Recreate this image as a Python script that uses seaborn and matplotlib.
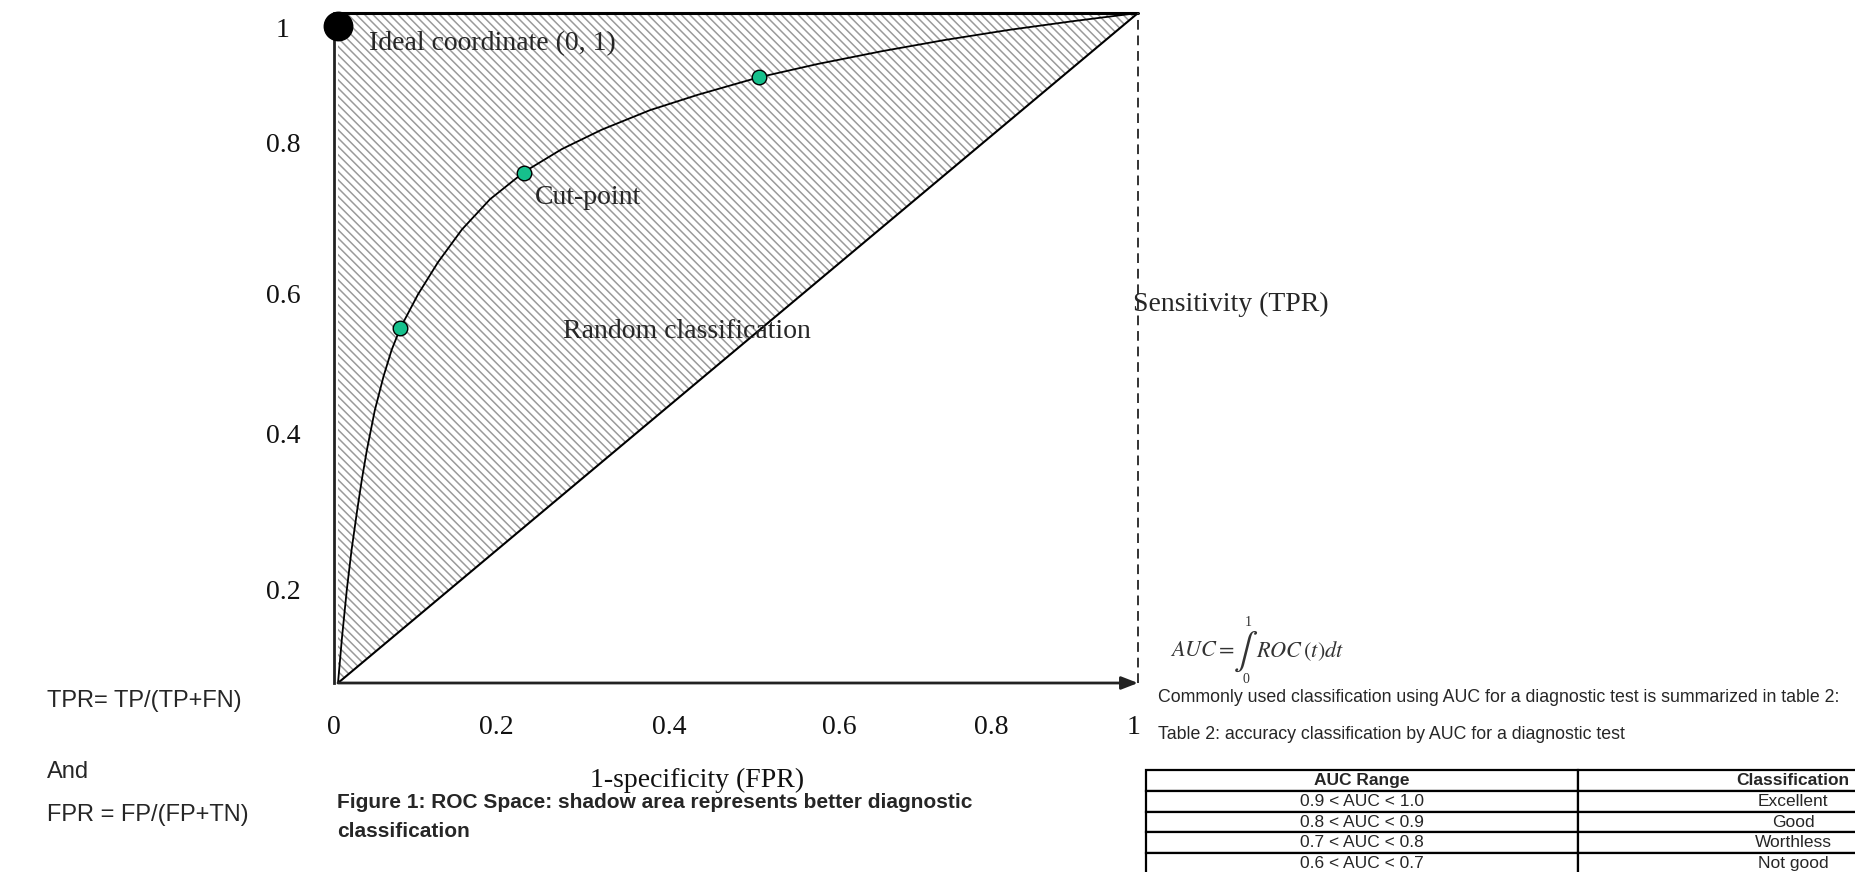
import matplotlib
matplotlib.use("Agg")
import matplotlib.pyplot as plt
import seaborn as sns

# ROC curve (FPR, TPR)
fpr_curve = [0, 0.005, 0.011, 0.017, 0.024, 0.030, 0.036, 0.046, 0.057, 0.067,
             0.078, 0.100, 0.125, 0.155, 0.190, 0.233, 0.280, 0.330, 0.390,
             0.450, 0.526, 0.600, 0.680, 0.760, 0.840, 0.920, 1.0]
tpr_curve = [0, 0.068, 0.139, 0.199, 0.258, 0.305, 0.347, 0.407, 0.458, 0.497,
             0.530, 0.580, 0.628, 0.677, 0.722, 0.763, 0.797, 0.826, 0.855,
             0.878, 0.904, 0.924, 0.943, 0.960, 0.975, 0.988, 1.0]
random_fpr = [0, 1]
random_tpr = [0, 1]
cut_fpr = [0.078, 0.233, 0.526]
cut_tpr = [0.530, 0.761, 0.904]
ideal_fpr = [0.0]
ideal_tpr = [0.98]

# the tick labels sit a little off the regular grid in the source figure
xtick_pos = [-0.005, 0.198, 0.414, 0.627, 0.816, 0.994]
xtick_lab = ["0", "0.2", "0.4", "0.6", "0.8", "1"]
ytick_pos = [0.139, 0.373, 0.582, 0.806, 0.978]
ytick_lab = ["0.2", "0.4", "0.6", "0.8", "1"]

auc_range = ["0.9 < AUC < 1.0", "0.8 < AUC < 0.9", "0.7 < AUC < 0.8", "0.6 < AUC < 0.7"]
auc_class = ["Excellent", "Good", "Worthless", "Not good"]

sans = ["Liberation Sans", "DejaVu Sans"]
serif = ["Liberation Serif", "DejaVu Serif"]

sns.set_theme(style="white")
plt.rcParams["font.family"] = serif
plt.rcParams["hatch.color"] = "#9a9a9a"
plt.rcParams["hatch.linewidth"] = 1.1

W, H = 1855, 872
fig = plt.figure(figsize=(W / 100, H / 100), dpi=100)
ax = fig.add_axes([334 / W, 189 / H, 804 / W, 670 / H])
ax.set_xlim(0, 1)
ax.set_ylim(0, 1)

# shaded area above the random line
ax.fill_between(random_fpr, random_tpr, [1, 1], facecolor="white",
                edgecolor="#9a9a9a", hatch="\\\\\\\\", linewidth=0, zorder=1)

sns.lineplot(x=random_fpr, y=random_tpr, color="black", lw=1.5, ax=ax, zorder=3)
sns.lineplot(x=fpr_curve, y=tpr_curve, color="black", lw=1.3, ax=ax,
             estimator=None, sort=False, zorder=3)
sns.scatterplot(x=cut_fpr, y=cut_tpr, s=110, color="#16c08c", edgecolor="black",
                linewidth=1, ax=ax, zorder=5)
ax.scatter(ideal_fpr, ideal_tpr, s=420, color="black", clip_on=False, zorder=6)

# frame: top line, dashed right side, arrow on the x axis
ax.plot([0, 1], [1, 1], color="black", lw=2.2, clip_on=False, zorder=4)
ax.plot([1, 1], [0, 1], color="#333333", lw=1.4, ls=(0, (5, 3)), clip_on=False, zorder=4)
for s in ["top", "right", "bottom"]:
    ax.spines[s].set_visible(False)
ax.spines["left"].set_color("#222222")
ax.spines["left"].set_linewidth(2)
ax.annotate("", xy=(1, 0), xytext=(0, 0), annotation_clip=False,
            arrowprops=dict(arrowstyle="-|>,head_length=0.9,head_width=0.35",
                            color="#222222", lw=2, mutation_scale=11,
                            shrinkA=0, shrinkB=0))

ax.set_xticks(xtick_pos, xtick_lab)
ax.set_yticks(ytick_pos, ytick_lab)
ax.tick_params(length=0, labelsize=20, colors="#111111")
ax.tick_params(axis="x", pad=23)
ax.tick_params(axis="y", pad=36.7)
for lab in ax.get_yticklabels():
    lab.set_horizontalalignment("center")
ax.grid(False)

ax.set_xlabel("1-specificity (FPR)", fontsize=20, color="#111111")
ax.xaxis.set_label_coords(0.451, -0.127)

ax.text(0.039, 0.955, "Ideal coordinate (0, 1)", fontsize=20, va="center", zorder=7)
ax.text(0.246, 0.725, "Cut-point", fontsize=20, va="center", zorder=7)
ax.text(0.281, 0.524, "Random classification", fontsize=20, va="center", zorder=7)
ax.text(0.994, 0.565, "Sensitivity (TPR)", fontsize=20, va="center", clip_on=False, zorder=7)

# left-hand definitions
fig.text(47 / W, 1 - 701 / H, "TPR= TP/(TP+FN)", family=sans, fontsize=17, va="center")
fig.text(47 / W, 1 - 772 / H, "And", family=sans, fontsize=17, va="center")
fig.text(47 / W, 1 - 815 / H, "FPR = FP/(FP+TN)", family=sans, fontsize=17, va="center")

# caption
fig.text(337 / W, 1 - 803 / H, "Figure 1: ROC Space: shadow area represents better diagnostic",
         family=sans, fontsize=15, weight="bold", va="center")
fig.text(337 / W, 1 - 831 / H, "classification",
         family=sans, fontsize=15, weight="bold", va="center")

# AUC formula and notes
fig.text(1170 / W, 1 - 651 / H, r"$AUC=$", fontsize=16, math_fontfamily="stix",
         color="#333333", va="center")
fig.text(1246 / W, 1 - 652 / H, r"$\int$", fontsize=26, math_fontfamily="stix",
         color="#333333", va="center", ha="center")
fig.text(1256 / W, 1 - 651 / H, r"$ROC\,(t)dt$", fontsize=16, math_fontfamily="stix",
         color="#333333", va="center")
fig.text(1248 / W, 1 - 623 / H, "1", fontsize=10, color="#333333", ha="center", va="center")
fig.text(1246 / W, 1 - 679 / H, "0", fontsize=10, color="#333333", ha="center", va="center")
fig.text(1158 / W, 1 - 697 / H,
         "Commonly used classification using AUC for a diagnostic test is summarized in table 2:",
         family=sans, fontsize=12.8, va="center")
fig.text(1158 / W, 1 - 734 / H, "Table 2: accuracy classification by AUC for a diagnostic test",
         family=sans, fontsize=12.8, va="center")

# table, running off the right and bottom edges like the source
tax = fig.add_axes([1146 / W, -2 / H, 863 / W, 104 / H])
tax.axis("off")
tbl = tax.table(cellText=[list(r) for r in zip(auc_range, auc_class)],
                colLabels=["AUC Range", "Classification"],
                cellLoc="center", bbox=[0, 0, 1, 1])
tbl.auto_set_font_size(False)
tbl.set_fontsize(12.5)
for (r, c), cell in tbl.get_celld().items():
    cell.set_linewidth(1.6)
    cell.set_edgecolor("black")
    cell.get_text().set_fontfamily(sans)
    if r == 0:
        cell.get_text().set_fontweight("bold")

fig.savefig("out.png", dpi=100)
